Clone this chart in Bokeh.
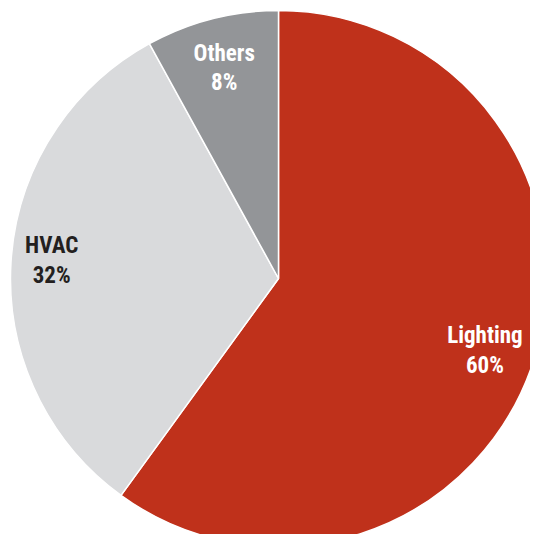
import numpy as np
from bokeh.plotting import figure
from bokeh.models import ColumnDataSource, Range1d
from bokeh.core.properties import value
from bokeh.embed import file_html
from bokeh.resources import INLINE

categories = ["Lighting", "HVAC", "Others"]
values = [60, 32, 8]
colors = ["#BF311B", "#D9DADC", "#939598"]
label_colors = ["#FFFFFF", "#231F20", "#FFFFFF"]
label_frac = [0.81, 0.848, 0.815]
label_dy = [5, -4, 1]

W, H = 530, 534
cx, cy, R = 278, H - 278, 268

vals = np.array(values, dtype=float)
frac = vals / vals.sum()
cum_end = np.cumsum(frac)
cum_start = cum_end - frac
start = np.pi / 2 - 2 * np.pi * cum_end
end = np.pi / 2 - 2 * np.pi * cum_start
mid = (start + end) / 2

lx = cx + np.array(label_frac) * R * np.cos(mid)
ly = cy + np.array(label_frac) * R * np.sin(mid)
labels = [f"{c}\n{v}%" for c, v in zip(categories, values)]

src = ColumnDataSource(dict(start=start, end=end, color=colors, cat=categories))
lsrc = ColumnDataSource(dict(x=lx, y=ly, text=labels, tc=label_colors, dy=label_dy))

p = figure(width=W, height=H, output_backend="svg", toolbar_location=None,
           x_range=Range1d(0, W), y_range=Range1d(0, H), min_border=0)
p.axis.visible = False
p.grid.visible = False
p.outline_line_color = None
p.background_fill_color = "white"

p.wedge(x=cx, y=cy, radius=R, start_angle="start", end_angle="end",
        fill_color="color", line_color="white", line_width=1.5, source=src)

p.text(x="x", y="y", text="text", source=lsrc, text_color="tc", y_offset="dy",
       text_font=value("'Roboto Condensed', 'DejaVu Sans Condensed', Roboto"),
       text_font_style="bold",
       text_font_size="23px", text_align="center", text_baseline="middle",
       text_line_height=1.1)

open("out.html", "w").write(file_html(p, INLINE))
